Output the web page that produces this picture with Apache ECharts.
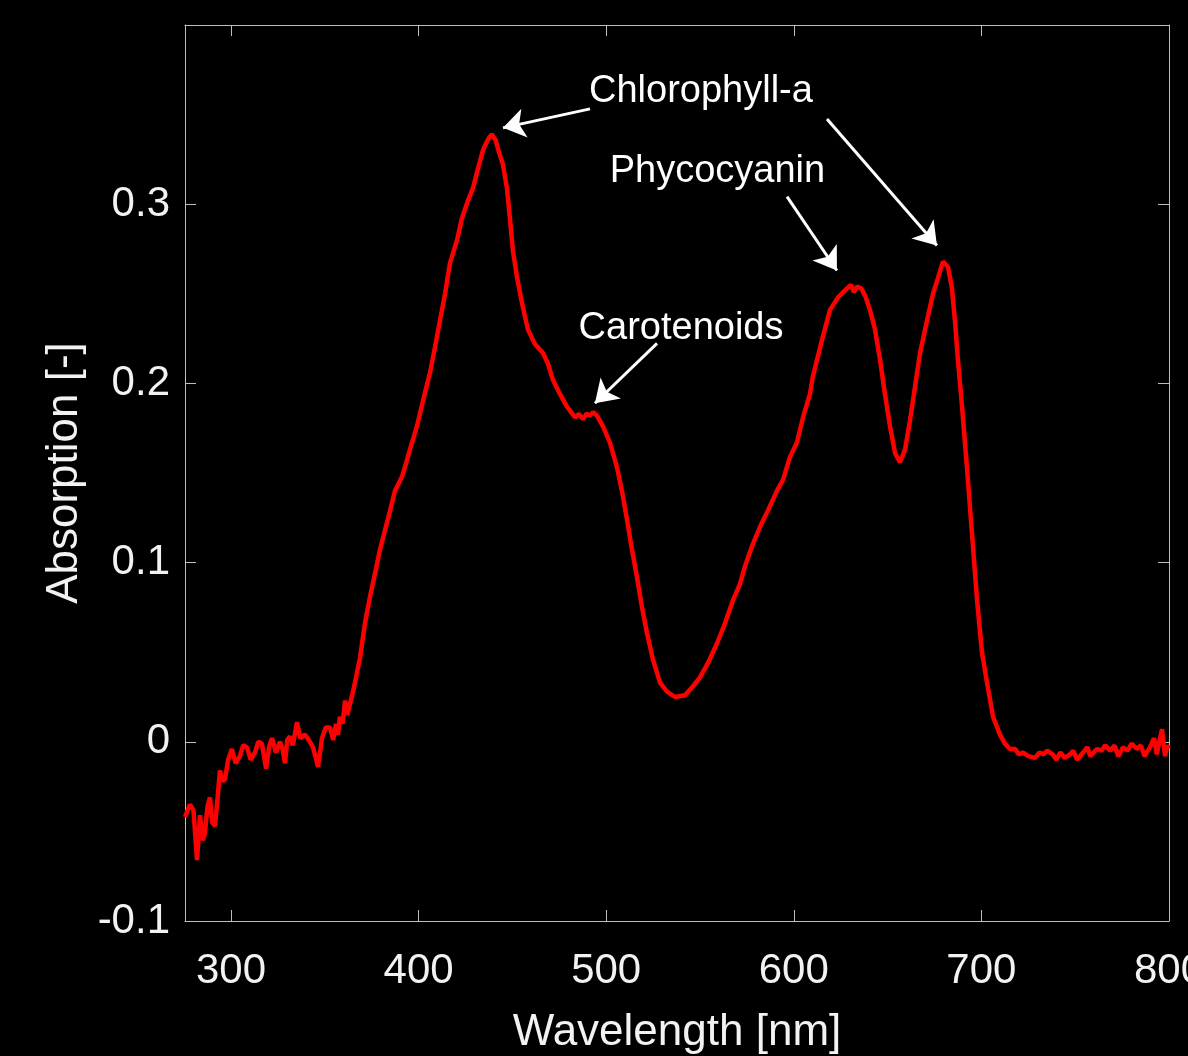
<!DOCTYPE html>
<html>
<head>
<meta charset="utf-8">
<script src="https://cdn.jsdelivr.net/npm/echarts@6/dist/echarts.min.js"></script>
<style>
  html, body { margin: 0; padding: 0; background: #000; }
  #chart { width: 1188px; height: 1056px; }
</style>
</head>
<body>
<div id="chart"></div>
<script>
// spectrum
const wavelength = [
  275.5, 278.1, 280.0, 281.9, 283.5, 285.0, 286.1, 287.5, 288.8, 290.0,
  291.5, 293.0, 294.1, 295.5, 296.8, 298.5, 300.5, 302.5, 304.8, 306.5,
  308.5, 310.5, 312.8, 314.5, 316.5, 318.7, 320.5, 321.9, 324.0, 326.1,
  327.5, 328.8, 330.0, 331.4, 333.0, 335.2, 337.0, 339.4, 341.5, 343.7,
  345.0, 346.4, 347.5, 348.5, 350.5, 352.8, 354.5, 356.0, 357.0, 358.1,
  359.5, 360.8, 362.0, 363.4, 364.8, 366.1, 368.8, 371.4, 374.1, 376.8,
  379.4, 382.1, 384.8, 387.4, 391.2, 393.8, 395.4, 399.1, 402.3, 406.1,
  408.7, 411.4, 414.1, 416.7, 420.5, 423.1, 426.3, 429.0, 431.7, 434.3,
  436.0, 437.5, 439.0, 439.7, 441.0, 442.3, 445.0, 447.1, 448.7, 450.3,
  452.5, 455.1, 458.3, 462.0, 466.3, 469.0, 471.6, 475.4, 479.1, 483.4,
  485.5, 487.6, 489.5, 491.4, 493.0, 495.1, 498.3, 502.0, 505.8, 508.4,
  511.1, 513.8, 516.4, 519.1, 521.7, 524.9, 528.7, 532.4, 536.7, 542.0,
  546.3, 550.0, 554.3, 559.1, 563.3, 567.6, 571.3, 574.0, 577.7, 582.0,
  586.2, 591.0, 594.2, 598.0, 601.7, 604.9, 608.6, 610.2, 615.0, 619.3,
  623.6, 628.4, 630.5, 632.0, 633.7, 636.0, 638.0, 640.6, 643.3, 646.0,
  648.6, 651.3, 654.0, 656.6, 659.3, 661.9, 664.6, 667.3, 671.0, 674.2,
  676.9, 679.5, 682.2, 684.3, 685.9, 687.5, 689.7, 692.3, 695.0, 697.7,
  700.3, 703.0, 706.2, 709.9, 712.5, 715.2, 718.0, 720.0, 722.2, 725.0,
  728.6, 731.0, 733.0, 735.0, 738.0, 740.0, 742.0, 744.5, 747.2, 749.0,
  751.0, 754.2, 756.5, 758.0, 761.6, 764.0, 766.0, 768.6, 771.0, 773.0,
  775.5, 778.0, 780.0, 782.9, 785.0, 787.0, 789.9, 792.0, 793.5, 795.0,
  796.3, 797.9, 799.0, 800.0
];
const absorption = [
  -0.042, -0.035, -0.038, -0.066, -0.041, -0.055, -0.051, -0.036, -0.031, -0.045,
  -0.047, -0.030, -0.016, -0.022, -0.021, -0.010, -0.004, -0.012, -0.008, -0.002,
  -0.003, -0.010, -0.006, 0.000, -0.001, -0.015, -0.002, 0.002, -0.006, 0.000,
  -0.004, -0.012, 0.001, 0.003, -0.002, 0.011, 0.002, 0.004, 0.001, -0.003,
  -0.008, -0.014, -0.006, 0.002, 0.008, 0.008, 0.001, 0.010, 0.004, 0.014,
  0.010, 0.023, 0.015, 0.021, 0.027, 0.033, 0.047, 0.066, 0.081, 0.094,
  0.107, 0.118, 0.129, 0.140, 0.148, 0.157, 0.163, 0.176, 0.190, 0.206,
  0.220, 0.235, 0.250, 0.267, 0.280, 0.292, 0.302, 0.309, 0.320, 0.330,
  0.334, 0.337, 0.339, 0.338, 0.336, 0.331, 0.322, 0.309, 0.292, 0.274,
  0.259, 0.245, 0.230, 0.222, 0.217, 0.211, 0.202, 0.194, 0.187, 0.181,
  0.183, 0.180, 0.183, 0.182, 0.184, 0.182, 0.176, 0.167, 0.153, 0.140,
  0.124, 0.107, 0.092, 0.075, 0.061, 0.046, 0.033, 0.028, 0.025, 0.026,
  0.031, 0.036, 0.044, 0.055, 0.066, 0.079, 0.088, 0.098, 0.109, 0.120,
  0.129, 0.140, 0.146, 0.159, 0.167, 0.181, 0.194, 0.204, 0.224, 0.241,
  0.248, 0.253, 0.255, 0.251, 0.254, 0.253, 0.249, 0.241, 0.230, 0.213,
  0.194, 0.176, 0.161, 0.156, 0.163, 0.179, 0.198, 0.217, 0.235, 0.250,
  0.259, 0.268, 0.265, 0.253, 0.235, 0.213, 0.187, 0.153, 0.116, 0.079,
  0.050, 0.033, 0.014, 0.004, -0.001, -0.004, -0.004, -0.007, -0.006, -0.008,
  -0.009, -0.006, -0.007, -0.005, -0.007, -0.010, -0.006, -0.009, -0.007, -0.005,
  -0.010, -0.006, -0.003, -0.008, -0.004, -0.005, -0.002, -0.005, -0.002, -0.008,
  -0.003, -0.005, -0.001, -0.004, -0.002, -0.008, -0.003, 0.002, -0.007, 0.001,
  0.007, -0.008, -0.002, -0.004
];
const xTicks = [300, 400, 500, 600, 700, 800];

// annotation texts and arrows, in data units
const labelNames = ['Chlorophyll-a', 'Phycocyanin', 'Carotenoids'];
const labelAt = [[550.5, 0.3627], [559.3, 0.3181], [539.9, 0.2306]];
const arrowFrom = [[491.4, 0.3532], [617.7, 0.3476], [596.4, 0.3042], [527.1, 0.2223]];
const arrowTo = [[445.0, 0.3426], [676.3, 0.2769], [623.0, 0.2630], [494.0, 0.1889]];

const chart = echarts.init(document.getElementById('chart'));

const font = 'Liberation Sans, Arial, Helvetica, sans-serif';
const axisColor = '#bdbdbd';
const textColor = '#f2f2f2';

const xBase = {
  type: 'value',
  min: 275.5,
  max: 800,
  splitLine: { show: false },
  axisLine: { show: true, onZero: false, lineStyle: { color: axisColor, width: 1 } },
  axisTick: { show: true, inside: true, length: 11, customValues: xTicks, lineStyle: { color: axisColor } }
};
const yBase = {
  type: 'value',
  min: -0.1,
  max: 0.4,
  interval: 0.1,
  splitLine: { show: false },
  axisLine: { show: true, onZero: false, lineStyle: { color: axisColor, width: 1 } },
  axisTick: { show: true, inside: true, length: 11, lineStyle: { color: axisColor } }
};

const option = {
  backgroundColor: '#000',
  animation: false,
  grid: { left: 185, right: 19, top: 25, bottom: 135, outerBoundsMode: 'none' },
  xAxis: [
    Object.assign({}, xBase, {
      position: 'bottom',
      name: 'Wavelength [nm]',
      nameLocation: 'middle',
      nameGap: 90,
      nameTextStyle: { color: textColor, fontSize: 44, fontFamily: font },
      axisLabel: { show: true, customValues: xTicks, margin: 29, color: textColor, fontSize: 42, fontFamily: font }
    }),
    Object.assign({}, xBase, { position: 'top', axisLabel: { show: false } })
  ],
  yAxis: [
    Object.assign({}, yBase, {
      position: 'left',
      name: 'Absorption [-]',
      nameLocation: 'middle',
      nameGap: 93,
      nameTextStyle: { color: textColor, fontSize: 44, fontFamily: font },
      axisLabel: {
        margin: 15, color: textColor, fontSize: 42, fontFamily: font,
        padding: [8, 0, 0, 0],
        formatter: v => (v > 0.35 ? '' : String(Math.round(v * 10) / 10))
      }
    }),
    Object.assign({}, yBase, { position: 'right', axisLabel: { show: false } })
  ],
  series: [
    {
      type: 'line',
      xAxisIndex: 0,
      yAxisIndex: 0,
      showSymbol: false,
      lineStyle: { color: '#ff0000', width: 4.5 },
      data: wavelength.map((w, i) => [w, absorption[i]]),
      markLine: {
        silent: true,
        symbol: ['none', 'arrow'],
        symbolSize: 22,
        label: { show: false },
        itemStyle: { color: '#fff' },
        lineStyle: { color: '#fff', width: 3, type: 'solid' },
        data: arrowFrom.map((f, i) => [{ coord: f }, { coord: arrowTo[i] }])
      },
      markPoint: {
        silent: true,
        symbol: 'circle',
        symbolSize: 0,
        label: {
          show: true,
          position: 'inside',
          color: '#fff',
          fontSize: 38,
          fontFamily: font,
          formatter: p => p.name
        },
        data: labelNames.map((n, i) => ({ name: n, coord: labelAt[i] }))
      }
    }
  ]
};

chart.setOption(option);
</script>
</body>
</html>
